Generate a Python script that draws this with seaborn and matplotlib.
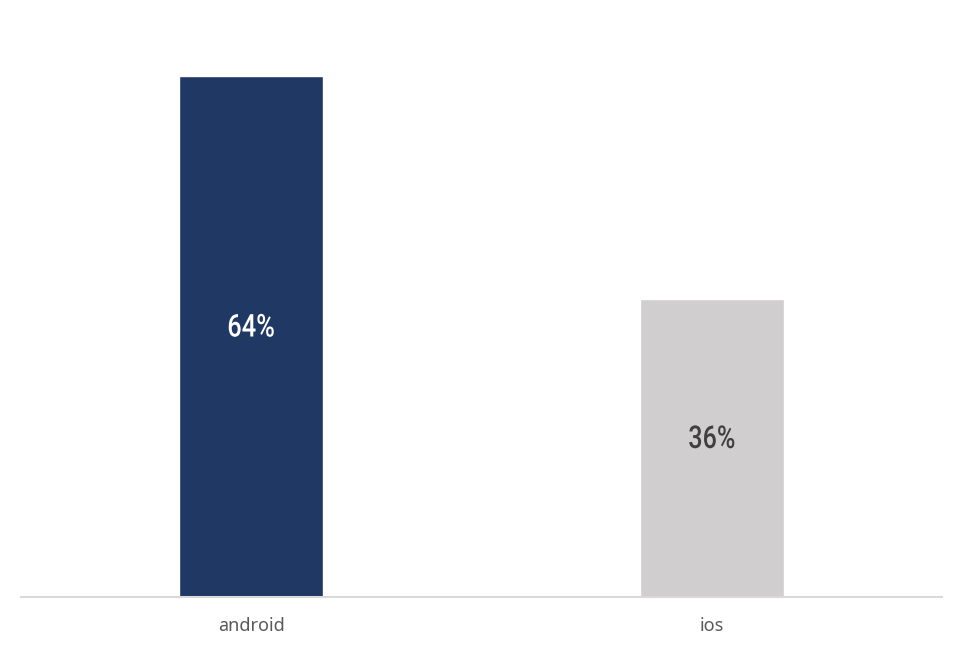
import matplotlib
matplotlib.use("Agg")
import matplotlib.pyplot as plt
import seaborn as sns
from matplotlib.font_manager import FontProperties
from matplotlib.patches import PathPatch
from matplotlib.textpath import TextPath
from matplotlib.transforms import Affine2D

platforms = ["android", "ios"]
shares = [63.6, 36.4]
bar_colors = ["#203864", "#D0CECE"]
label_colors = ["#FFFFFF", "#404040"]

sns.set_style("white")

fig = plt.figure(figsize=(9.67, 6.5), dpi=100)
ax = fig.add_axes([0.0217, 0.0808, 0.9525, 0.8777])

sns.barplot(x=platforms, y=shares, hue=platforms, palette=bar_colors,
            width=0.312, legend=False, ax=ax, saturation=1)

ax.set_xlim(-0.5, 1.5)
ax.set_ylim(0, 69.6)

# condensed-looking value labels: squeeze a text path horizontally
fp = FontProperties(family="Roboto", weight="medium")
for i, v in enumerate(shares):
    tp = TextPath((0, 0), f"{round(v)}%", size=30, prop=fp)
    ext = tp.get_extents()
    cx, cy = (ext.x0 + ext.x1) / 2, (ext.y0 + ext.y1) / 2
    sx = 45 / ext.width
    sy = 23 / ext.height
    px, py = ax.transData.transform((i, v / 2 + 1.4))
    tr = Affine2D().translate(-cx, -cy).scale(sx, sy).translate(px, py)
    ax.add_patch(PathPatch(tp, transform=tr, facecolor=label_colors[i],
                           edgecolor="none"))

ax.set_yticks([])
sns.despine(ax=ax, left=True)
ax.spines["bottom"].set_color("#D9D9D9")
ax.spines["bottom"].set_linewidth(1.5)
ax.tick_params(axis="x", length=0, pad=14, labelsize=13, labelcolor="#595959")
for t in ax.get_xticklabels():
    t.set_fontfamily("Noto Sans")

fig.savefig("out.png", dpi=100)
